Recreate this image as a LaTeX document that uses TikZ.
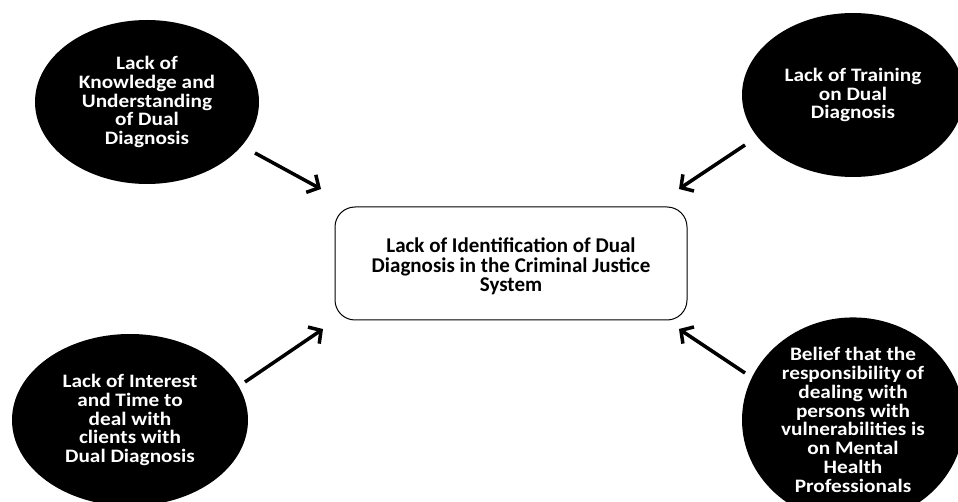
\documentclass[tikz,border=0pt]{standalone}
\usepackage{fontspec}
\setmainfont{Carlito}
\newfontfamily\ellfont{Carlito}[FakeStretch=1.12]
\usetikzlibrary{arrows.meta,shapes.geometric}
\begin{document}
\begin{tikzpicture}[x=1pt,y=-1pt,
  cause/.style={ellipse,fill=black,text=white,font=\ellfont\bfseries\fontsize{19}{18.8}\selectfont,align=center,inner sep=0pt},
  effect/.style={draw=black,line width=1pt,rounded corners=20pt,fill=white,minimum width=352pt,minimum height=113pt},
  efftext/.style={font=\bfseries\fontsize{21}{19.3}\selectfont,align=center,inner sep=0pt},
  arr/.style={line width=3.5pt,-{Straight Barb[length=9pt,width=20pt,line width=3.5pt]}}]
\useasboundingbox (0,0) rectangle (958,502);
\node[effect] (c) at (511,263.5) {};
\node[efftext] (ct) at ([yshift=-3pt]c.center) {Lack of Identification of Dual\\Diagnosis in the Criminal Justice\\System};
\node[cause,minimum width=224pt,minimum height=164pt] (tl) at (147,102) {Lack of\\Knowledge and\\Understanding\\of Dual\\Diagnosis};
\node[cause,minimum width=222pt,minimum height=164pt] (tr) at (853,95) {Lack of Training\\on Dual\\Diagnosis};
\node[cause,minimum width=236pt,minimum height=172pt] (bl) at (130,420) {Lack of Interest\\and Time to\\deal with\\clients with\\Dual Diagnosis};
\node[cause,minimum width=222pt,minimum height=172pt] (br) at (853,420) {Belief that the\\responsibility of\\dealing with\\persons with\\vulnerabilities is\\on Mental\\Health\\Professionals};
\coordinate (tls) at (255,153); \coordinate (tle) at (321,189);
\coordinate (trs) at (745,145); \coordinate (tre) at (679,189);
\coordinate (bls) at (245,382); \coordinate (ble) at (323,329);
\coordinate (brs) at (745,373); \coordinate (bre) at (679,329);
\draw[arr] (tls) -- (tle);
\draw[arr] (trs) -- (tre);
\draw[arr] (bls) -- (ble);
\draw[arr] (brs) -- (bre);
\end{tikzpicture}
\end{document}
